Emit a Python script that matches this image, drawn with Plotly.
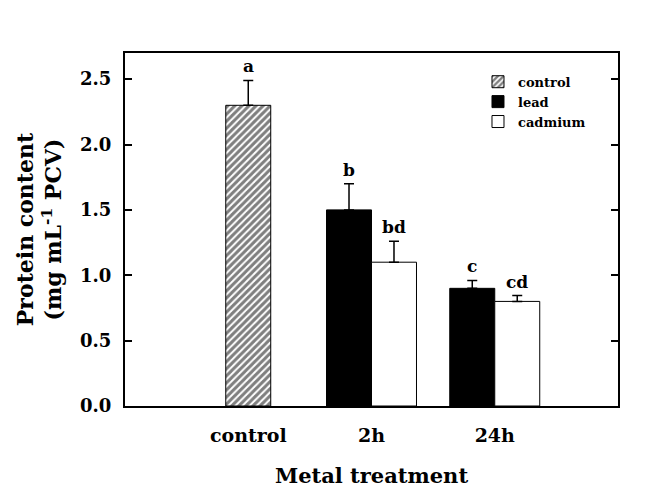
import numpy as np
import plotly.graph_objects as go

# ---- data ----
categories = ["control", "2h", "24h"]
series_names = ["control", "lead", "cadmium"]

control_values = [2.30]
control_errors = [0.19]
control_letters = ["a"]

lead_values = [1.50, 0.90]
lead_errors = [0.20, 0.06]
lead_letters = ["b", "c"]

cadmium_values = [1.10, 0.80]
cadmium_errors = [0.16, 0.045]
cadmium_letters = ["bd", "cd"]

y_tick_values = [0.0, 0.5, 1.0, 1.5, 2.0, 2.5]
y_tick_labels = ["0.0", "0.5", "1.0", "1.5", "2.0", "2.5"]

# ---- layout helpers ----
cat_pos = np.arange(1, len(categories) + 1)   # numeric category positions
bar_w = 0.365
FONT = "DejaVu Serif"

control_x = cat_pos[:1]
metal_x = cat_pos[1:]


def err(arr):
    return dict(type="data", symmetric=False, array=arr,
                arrayminus=[0] * len(arr), color="black",
                thickness=1.5, width=5)


fig = go.Figure()

fig.add_trace(go.Bar(
    name=series_names[0], x=control_x, y=control_values, width=bar_w,
    offset=-bar_w / 2,
    marker=dict(color="white", line=dict(color="black", width=1),
                pattern=dict(shape="/", fgcolor="black", bgcolor="white",
                             size=5, solidity=0.6)),
    error_y=err(control_errors),
))
fig.add_trace(go.Bar(
    name=series_names[1], x=metal_x, y=lead_values, width=bar_w,
    offset=-bar_w,
    marker=dict(color="black", line=dict(color="black", width=1)),
    error_y=err(lead_errors),
))
fig.add_trace(go.Bar(
    name=series_names[2], x=metal_x, y=cadmium_values, width=bar_w,
    offset=0,
    marker=dict(color="white", line=dict(color="black", width=1)),
    error_y=err(cadmium_errors),
))

# significance letters
letter_sets = [
    (control_x, control_values, control_errors, control_letters, 0.0),
    (metal_x, lead_values, lead_errors, lead_letters, -bar_w / 2),
    (metal_x, cadmium_values, cadmium_errors, cadmium_letters, bar_w / 2),
]
for xs, vals, errs, labs, off in letter_sets:
    for xv, v, e, t in zip(xs, vals, errs, labs):
        fig.add_annotation(x=xv + off, y=v + e, text=t, showarrow=False,
                           yanchor="bottom", yshift=2,
                           font=dict(family=FONT, size=17, color="black",
                                     weight="bold"))

fig.update_layout(
    width=638, height=488,
    margin=dict(l=117, r=28, t=45, b=88),
    paper_bgcolor="white", plot_bgcolor="white",
    barmode="overlay",
    showlegend=True,
    legend=dict(x=0.716, y=0.961, xanchor="left", yanchor="top",
                bgcolor="rgba(0,0,0,0)", borderwidth=0,
                font=dict(family=FONT, size=13, color="black", weight="bold"),
                tracegroupgap=0, itemwidth=30),
    font=dict(family=FONT, color="black"),
)

fig.update_xaxes(
    range=[0, 4], tickmode="array", tickvals=cat_pos, ticktext=categories,
    ticks="", showgrid=False, zeroline=False,
    showline=True, linecolor="black", linewidth=2, mirror=True,
    ticklabelstandoff=11,
    tickfont=dict(family=FONT, size=19, color="black", weight="bold"),
    title=dict(text="Metal treatment", standoff=24,
               font=dict(family=FONT, size=21, color="black", weight="bold")),
)
fig.update_yaxes(
    range=[0, 2.7], tickmode="array", tickvals=y_tick_values, ticktext=y_tick_labels,
    ticks="inside", ticklen=7, tickwidth=1.5, tickcolor="black",
    showgrid=False, zeroline=False,
    showline=True, linecolor="black", linewidth=2, mirror="ticks",
    ticklabelstandoff=8,
    tickfont=dict(family=FONT, size=18, color="black", weight="bold"),
    title=dict(text="Protein content<br>(mg mL<sup>-1</sup> PCV)", standoff=12,
               font=dict(family=FONT, size=22, color="black", weight="bold")),
)

fig.write_html("out.html")
